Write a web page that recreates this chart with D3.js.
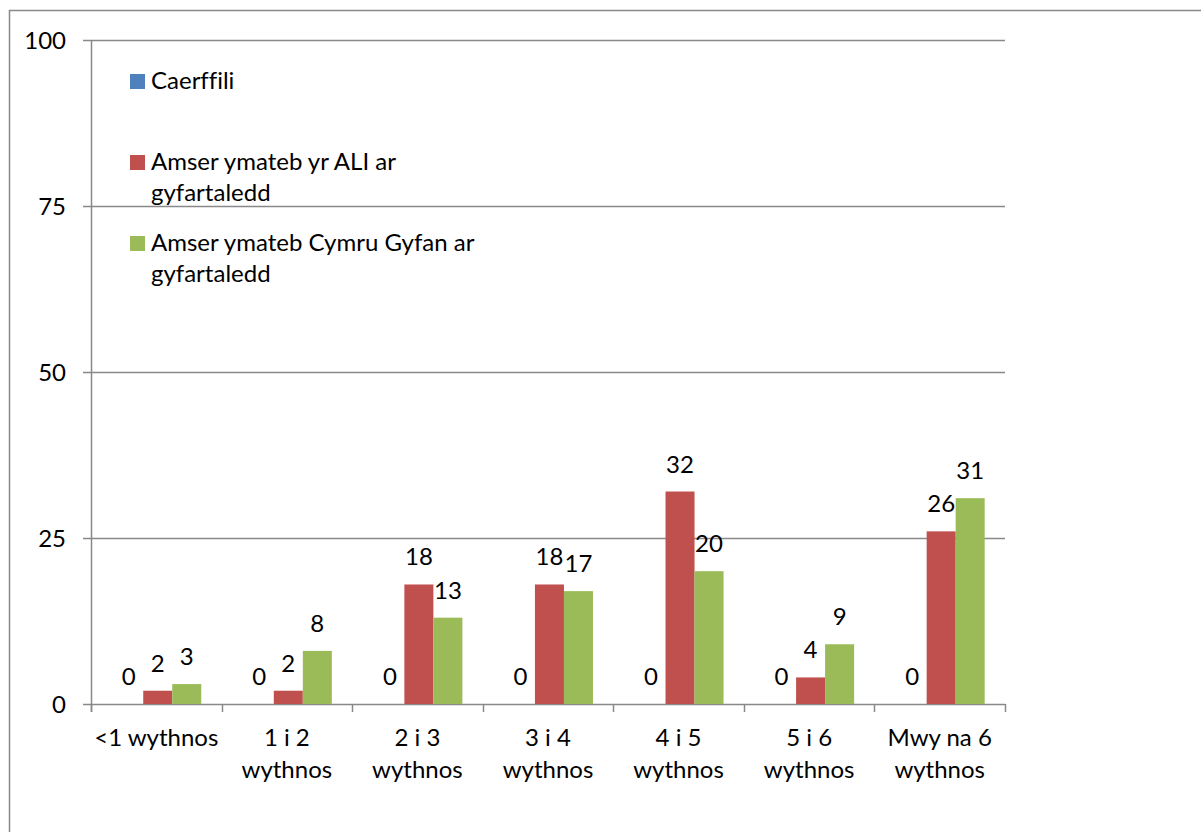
<!DOCTYPE html>
<html>
<head>
<meta charset="utf-8">
<script src="https://cdn.jsdelivr.net/npm/d3@7"></script>
<style>
  body { margin: 0; background: #fff; }
  text, tspan { font-family: Lato, "Open Sans", sans-serif; fill: #000;
                font-variant-ligatures: no-common-ligatures; font-feature-settings: "liga" 0, "clig" 0; }
</style>
</head>
<body>
<div id="chart"></div>
<script>
// Data
var categories = [["<1 wythnos"], ["1 i 2", "wythnos"], ["2 i 3", "wythnos"], ["3 i 4", "wythnos"],
                  ["4 i 5", "wythnos"], ["5 i 6", "wythnos"], ["Mwy na 6", "wythnos"]];
var seriesNames = [["Caerffili"], ["Amser ymateb yr ALI ar", "gyfartaledd"], ["Amser ymateb Cymru Gyfan ar", "gyfartaledd"]];
var caerffili = [0, 0, 0, 0, 0, 0, 0];
var aliAverage = [2, 2, 18, 18, 32, 4, 26];
var walesAverage = [3, 8, 13, 17, 20, 9, 31];
var yTicks = [0, 25, 50, 75, 100];
var colors = ["#4F81BD", "#C0504D", "#9BBB59"];

var series = [caerffili, aliAverage, walesAverage];

var W = 1201, H = 832;
var plotLeft = 91, plotRight = 1005, plotTop = 40, plotBottom = 704;
var fontSize = "24px";

var svg = d3.select("#chart")
  .append("svg")
    .attr("width", W)
    .attr("height", H);

// Outer chart frame
svg.append("rect")
  .attr("x", 9.5).attr("y", 10.5)
  .attr("width", 1300).attr("height", 900)
  .attr("fill", "none")
  .attr("stroke", "#898989")
  .attr("stroke-width", 1.5);

var x = d3.scaleBand()
  .domain(d3.range(categories.length))
  .range([plotLeft, plotRight]);

var bw = x.bandwidth();
var x1 = d3.scaleBand()
  .domain(d3.range(series.length))
  .range([bw * 0.8 / 4.5, bw * 3.8 / 4.5]);

var y = d3.scaleLinear()
  .domain([0, 100])
  .range([plotBottom, plotTop]);

// Gridlines and y axis labels
svg.append("g")
  .selectAll("line")
  .data(yTicks)
  .enter()
  .append("line")
    .attr("x1", plotLeft - 8)
    .attr("x2", plotRight)
    .attr("y1", function (d) { return Math.round(y(d)) + 0.5; })
    .attr("y2", function (d) { return Math.round(y(d)) + 0.5; })
    .attr("stroke", "#898989")
    .attr("stroke-width", 1.5);

svg.append("g")
  .selectAll("text")
  .data(yTicks)
  .enter()
  .append("text")
    .attr("x", 66)
    .attr("y", function (d) { return y(d); })
    .attr("dy", "0.36em")
    .attr("text-anchor", "end")
    .style("font-size", fontSize)
    .text(function (d) { return d; });

// Y axis line
svg.append("line")
  .attr("x1", plotLeft + 0.5).attr("x2", plotLeft + 0.5)
  .attr("y1", plotTop).attr("y2", plotBottom + 8)
  .attr("stroke", "#898989")
  .attr("stroke-width", 1.5);

// X axis ticks
svg.append("g")
  .selectAll("line")
  .data(d3.range(categories.length + 1))
  .enter()
  .append("line")
    .attr("x1", function (d) { return Math.round(plotLeft + d * bw) + 0.5; })
    .attr("x2", function (d) { return Math.round(plotLeft + d * bw) + 0.5; })
    .attr("y1", plotBottom)
    .attr("y2", plotBottom + 8)
    .attr("stroke", "#898989")
    .attr("stroke-width", 1.5);

// Bars
var groups = svg.append("g")
  .selectAll("g")
  .data(categories)
  .enter()
  .append("g")
    .attr("transform", function (d, i) { return "translate(" + x(i) + ",0)"; });

groups.selectAll("rect")
  .data(function (d, i) { return series.map(function (s, j) { return {s: j, v: s[i]}; }); })
  .enter()
  .append("rect")
    .attr("x", function (d) { return x1(d.s); })
    .attr("y", function (d) { return y(d.v); })
    .attr("width", x1.bandwidth())
    .attr("height", function (d) { return plotBottom - y(d.v); })
    .attr("fill", function (d) { return colors[d.s]; });

// Value labels
groups.selectAll("text.val")
  .data(function (d, i) { return series.map(function (s, j) { return {s: j, v: s[i]}; }); })
  .enter()
  .append("text")
    .attr("class", "val")
    .attr("x", function (d) { return x1(d.s) + x1.bandwidth() / 2; })
    .attr("y", function (d) { return y(d.v) - 19; })
    .attr("text-anchor", "middle")
    .style("font-size", fontSize)
    .text(function (d) { return d.v; });

// Category labels
groups.append("text")
  .attr("x", bw / 2)
  .attr("y", 746)
  .attr("text-anchor", "middle")
  .style("font-size", fontSize)
  .selectAll("tspan")
  .data(function (d) { return d; })
  .enter()
  .append("tspan")
    .attr("x", bw / 2)
    .attr("dy", function (d, i) { return i === 0 ? 0 : 32; })
    .text(function (d) { return d; });

// Legend
var legendY = [89, 170, 251];
var legend = svg.append("g")
  .selectAll("g")
  .data(seriesNames)
  .enter()
  .append("g");

legend.append("rect")
  .attr("x", 130)
  .attr("y", function (d, i) { return legendY[i] - 15; })
  .attr("width", 15)
  .attr("height", 15)
  .attr("fill", function (d, i) { return colors[i]; });

legend.append("text")
  .attr("x", 151)
  .attr("y", function (d, i) { return legendY[i]; })
  .style("font-size", fontSize)
  .selectAll("tspan")
  .data(function (d) { return d; })
  .enter()
  .append("tspan")
    .attr("x", 151)
    .attr("dy", function (d, i) { return i === 0 ? 0 : 31; })
    .text(function (d) { return d; });
</script>
</body>
</html>
